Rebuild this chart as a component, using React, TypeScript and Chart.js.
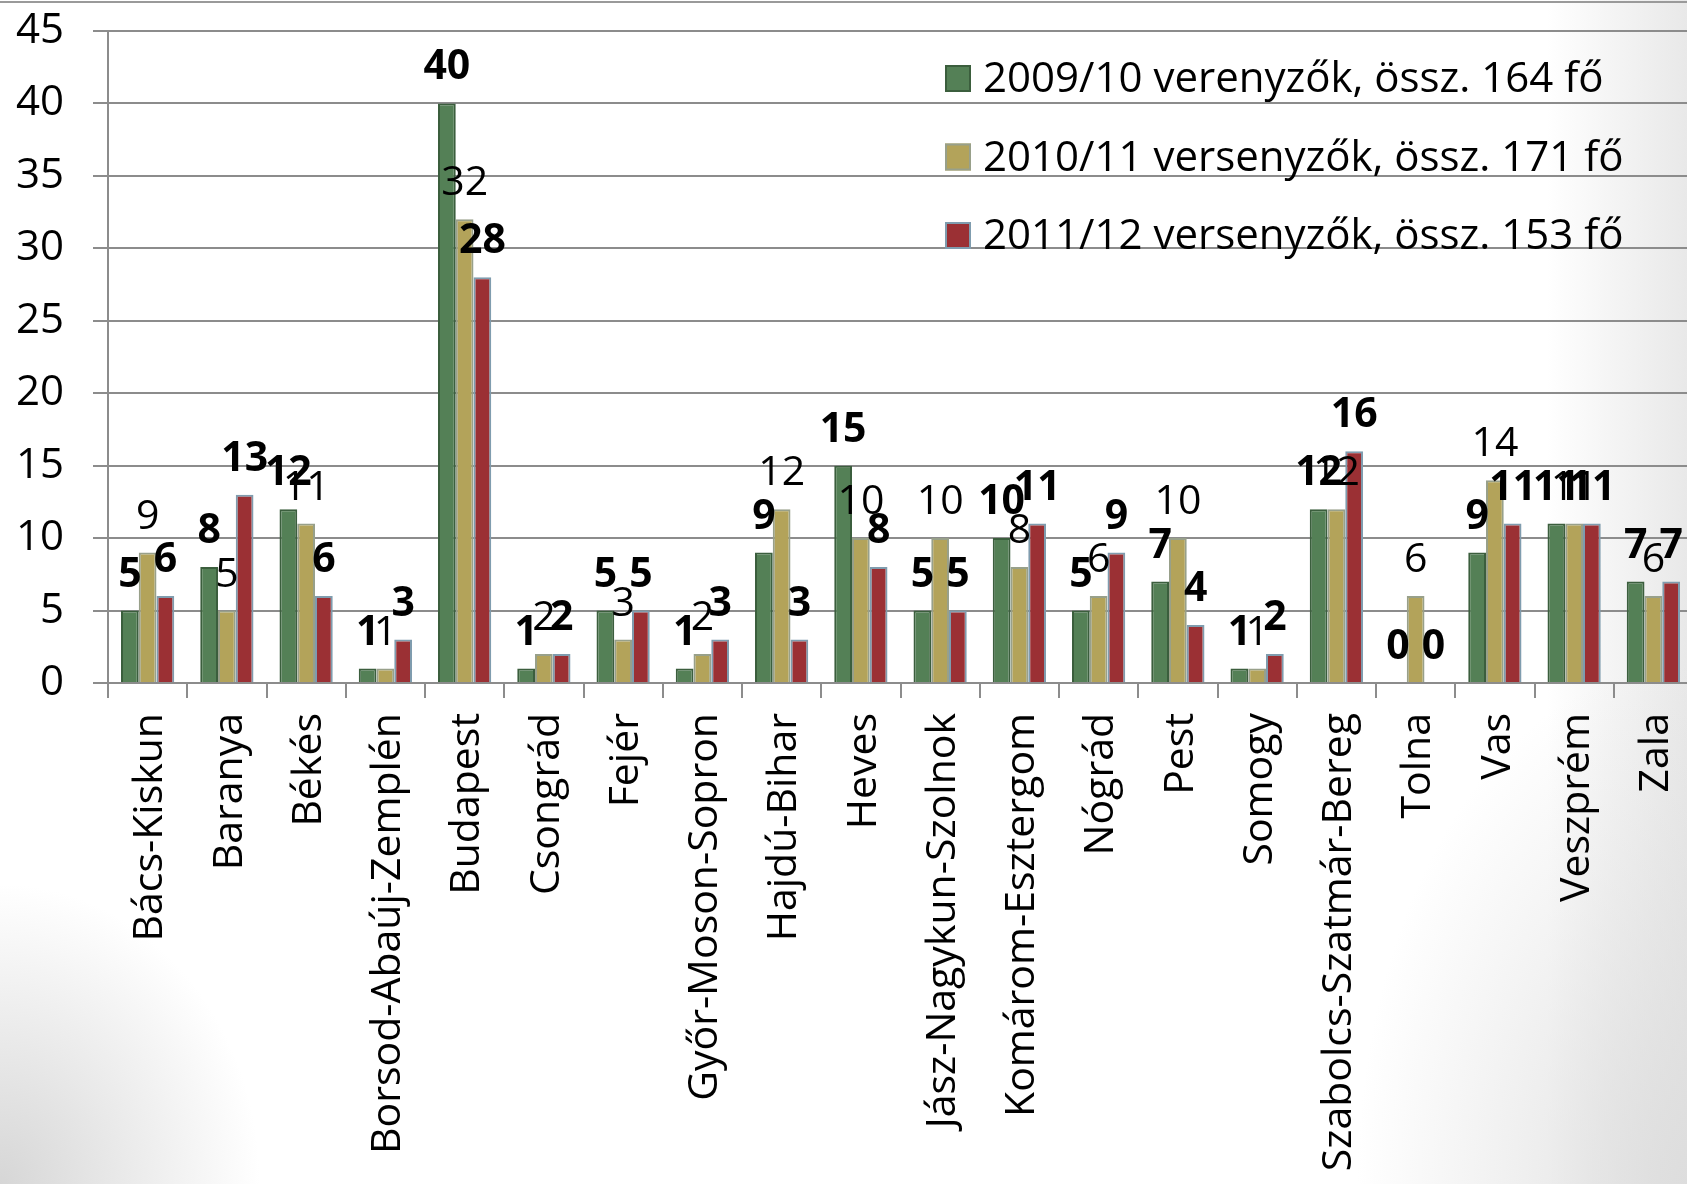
import React, { useEffect, useRef } from 'react';
import { Chart, registerables } from 'chart.js';

Chart.register(...registerables);

const categories = [
  'Bács-Kiskun', 'Baranya', 'Békés', 'Borsod-Abaúj-Zemplén', 'Budapest', 'Csongrád', 'Fejér',
  'Győr-Moson-Sopron', 'Hajdú-Bihar', 'Heves', 'Jász-Nagykun-Szolnok', 'Komárom-Esztergom',
  'Nógrád', 'Pest', 'Somogy', 'Szabolcs-Szatmár-Bereg', 'Tolna', 'Vas', 'Veszprém', 'Zala',
];

const values2009 = [5, 8, 12, 1, 40, 1, 5, 1, 9, 15, 5, 10, 5, 7, 1, 12, 0, 9, 11, 7];
const values2010 = [9, 5, 11, 1, 32, 2, 3, 2, 12, 10, 10, 8, 6, 10, 1, 12, 6, 14, 11, 6];
const values2011 = [6, 13, 6, 3, 28, 2, 5, 3, 3, 8, 5, 11, 9, 4, 2, 16, 0, 11, 11, 7];

const seriesLabels = [
  '2009/10 verenyzők, össz. 164 fő',
  '2010/11 versenyzők, össz. 171 fő',
  '2011/12 versenyzők, össz. 153 fő',
];

const yTicks = [0, 5, 10, 15, 20, 25, 30, 35, 40, 45];

const FONT = '"Open Sans", "Noto Sans", sans-serif';
const GRID = '#8c8c8c';

const valueLabelPlugin = {
  id: 'valueLabels',
  afterDatasetsDraw(chart: any) {
    const ctx = chart.ctx;
    ctx.save();
    ctx.fillStyle = '#000';
    ctx.textAlign = 'center';
    ctx.textBaseline = 'alphabetic';
    chart.data.datasets.forEach((ds: any, i: number) => {
      const meta = chart.getDatasetMeta(i);
      ctx.font = `${i === 1 ? 'normal' : 'bold'} 41px ${FONT}`;
      meta.data.forEach((bar: any, j: number) => {
        ctx.fillText(String(ds.data[j]), bar.x, bar.y - 24);
      });
    });
    ctx.restore();
  },
};

const insideLegendPlugin = {
  id: 'insideLegend',
  afterDraw(chart: any) {
    const ctx = chart.ctx;
    chart.data.datasets.forEach((ds: any, i: number) => {
      const top = 65 + i * 78.5;
      ctx.save();
      ctx.fillStyle = ds.backgroundColor;
      ctx.fillRect(945, top, 26, 27);
      ctx.strokeStyle = ds.borderColor;
      ctx.lineWidth = 2;
      ctx.strokeRect(946, top + 1, 24, 25);
      ctx.font = `normal 42px ${FONT}`;
      ctx.fillStyle = '#000';
      ctx.textAlign = 'left';
      ctx.textBaseline = 'alphabetic';
      ctx.fillText(ds.label, 983, top + 27);
      ctx.restore();
    });
  },
};

export default function App() {
  const ref = useRef<HTMLCanvasElement | null>(null);

  useEffect(() => {
    if (!ref.current) return;
    const chart = new Chart(ref.current, {
      type: 'bar',
      data: {
        labels: categories,
        datasets: [
          {
            label: seriesLabels[0],
            data: values2009,
            backgroundColor: '#548056',
            borderColor: '#3b5e3d',
            borderWidth: 2,
            categoryPercentage: 0.672,
            barPercentage: 1,
          },
          {
            label: seriesLabels[1],
            data: values2010,
            backgroundColor: '#b3a35a',
            borderColor: '#98a08a',
            borderWidth: 2,
            categoryPercentage: 0.672,
            barPercentage: 1,
          },
          {
            label: seriesLabels[2],
            data: values2011,
            backgroundColor: '#9b3034',
            borderColor: '#7f9cae',
            borderWidth: 2,
            categoryPercentage: 0.672,
            barPercentage: 1,
          },
        ],
      },
      options: {
        responsive: false,
        animation: false,
        devicePixelRatio: 1,
        layout: { autoPadding: false, padding: { top: 31, right: 7, left: 0, bottom: 0 } },
        plugins: {
          legend: { display: false },
          tooltip: { enabled: false },
        },
        scales: {
          x: {
            grid: {
              offset: true,
              drawOnChartArea: false,
              drawTicks: true,
              tickLength: 15,
              color: GRID,
              lineWidth: 2,
            },
            border: { display: true, color: GRID, width: 2 },
            ticks: {
              autoSkip: false,
              maxRotation: 90,
              minRotation: 90,
              padding: 15,
              labelOffset: 3,
              color: '#000',
              font: { family: FONT, size: 41 },
            },
            afterFit: (s: any) => {
              s.height = 501;
              s.paddingLeft = 0;
              s.paddingRight = 0;
            },
          },
          y: {
            min: 0,
            max: 45,
            afterBuildTicks: (s: any) => {
              s.ticks = yTicks.map((v) => ({ value: v }));
            },
            ticks: {
              padding: 29,
              color: '#000',
              font: { family: FONT, size: 42 },
            },
            grid: { color: GRID, lineWidth: 2, tickLength: 15 },
            border: { display: true, color: GRID, width: 2 },
            afterFit: (s: any) => {
              s.width = 108;
              s.paddingTop = 0;
              s.paddingBottom = 0;
            },
          },
        },
      },
      plugins: [valueLabelPlugin, insideLegendPlugin],
    });
    return () => chart.destroy();
  }, []);

  return (
    <div
      style={{
        position: 'fixed',
        left: 0,
        top: 0,
        width: 1687,
        height: 1184,
        overflow: 'hidden',
        background:
          'radial-gradient(ellipse 260px 300px at 0% 100%, rgba(212,212,212,0.95), rgba(255,255,255,0)),' +
          'radial-gradient(ellipse 330px 520px at 100% 100%, rgba(220,220,220,0.9), rgba(255,255,255,0)),' +
          'linear-gradient(to left, rgba(230,230,230,0.9), rgba(255,255,255,0) 140px),' +
          '#ffffff',
      }}
    >
      <div
        style={{
          position: 'absolute',
          left: 0,
          top: 1,
          width: '100%',
          height: 2,
          background: '#9a9a9a',
          zIndex: 2,
        }}
      />
      <canvas
        ref={ref}
        width={1700}
        height={1184}
        style={{ position: 'absolute', left: 0, top: 0, display: 'block' }}
      />
    </div>
  );
}
